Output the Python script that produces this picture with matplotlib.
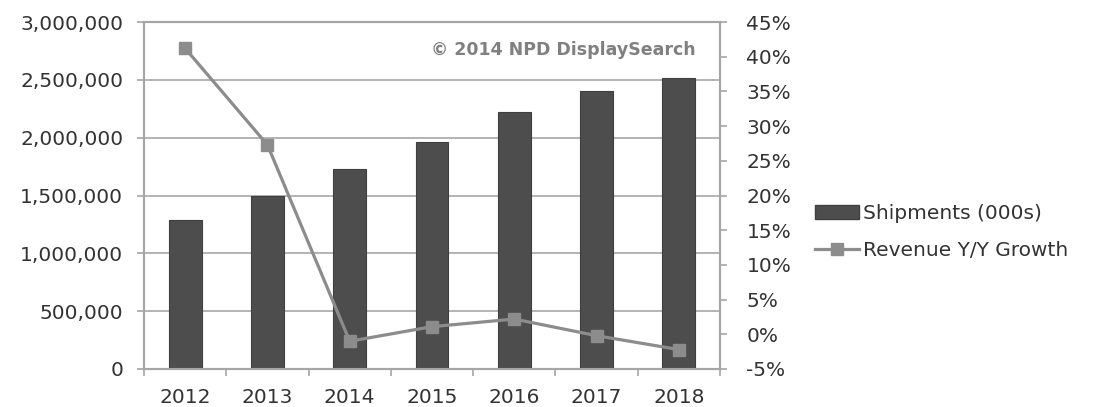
import matplotlib
matplotlib.use("Agg")
import matplotlib.pyplot as plt
from matplotlib.ticker import FuncFormatter, FixedLocator
from matplotlib.lines import Line2D
from matplotlib.patches import Patch

years = ["2012", "2013", "2014", "2015", "2016", "2017", "2018"]
shipments = [1288000, 1500000, 1730000, 1965000, 2225000, 2406000, 2513000]
growth = [41.2, 27.3, -1.0, 1.1, 2.2, -0.2, -2.2]
left_ticks = [0, 500000, 1000000, 1500000, 2000000, 2500000, 3000000]
right_ticks = [-5, 0, 5, 10, 15, 20, 25, 30, 35, 40, 45]

plt.rcParams['font.family'] = ['DejaVu Sans']
fig = plt.figure(figsize=(11.03, 4.07), dpi=100)
ax = fig.add_axes([144/1103, 1 - 369/407, (720-144)/1103, (369-22)/407])

BAR = "#4d4d4d"
LINE = "#8c8c8c"
GRID = "#b3b3b3"
SPINE = "#a6a6a6"
TXT = "#333333"
FS = 14.5

x = list(range(len(years)))
ax.bar(x, shipments, width=0.4, color=BAR, edgecolor="#3f3f3f", linewidth=0.8, zorder=3)
ax.set_xlim(-0.5, len(years) - 0.5)
ax.set_ylim(0, 3000000)
ax.set_yticks(left_ticks)
ax.yaxis.set_major_formatter(FuncFormatter(lambda v, p: f"{int(v):,}"))
ax.grid(axis="y", color=GRID, linewidth=1.4, zorder=0)
ax.set_axisbelow(True)

# x ticks: marks at boundaries, labels at centres
ax.xaxis.set_major_locator(FixedLocator([i - 0.5 for i in range(len(years) + 1)]))
ax.xaxis.set_major_formatter(FuncFormatter(lambda v, p: ""))
ax.xaxis.set_minor_locator(FixedLocator(x))
ax.set_xticklabels(years, minor=True)
ax.tick_params(axis="x", which="major", length=5, width=1.2, color=SPINE, direction="out")
ax.tick_params(axis="x", which="minor", length=0, pad=14, labelsize=FS, labelcolor=TXT)
ax.tick_params(axis="y", length=5, width=1.2, color=SPINE, labelsize=FS, labelcolor=TXT, pad=10)

for s in ax.spines.values():
    s.set_color(SPINE)
    s.set_linewidth(1.5)

ax2 = ax.twinx()
ax2.plot(x, growth, color=LINE, linewidth=2.3, marker="s", markersize=9,
         markerfacecolor=LINE, markeredgecolor=LINE, zorder=4)
ax2.set_ylim(-5, 45)
ax2.set_yticks(right_ticks)
ax2.yaxis.set_major_formatter(FuncFormatter(lambda v, p: f"{int(v)}%"))
ax2.tick_params(axis="y", length=5, width=1.2, color=SPINE, labelsize=FS, labelcolor=TXT, pad=14)
for s in ax2.spines.values():
    s.set_color(SPINE)
    s.set_linewidth(1.5)

ax.text(0.958, 0.92, "© 2014 NPD DisplaySearch", transform=ax.transAxes,
        ha="right", va="center", fontsize=12.5, fontweight="bold", color="#808080")

handles = [Patch(facecolor=BAR, edgecolor="#3f3f3f"),
           Line2D([0], [0], color=LINE, linewidth=2.3, marker="s", markersize=9,
                  markerfacecolor=LINE, markeredgecolor=LINE)]
fig.legend(handles, ["Shipments (000s)", "Revenue Y/Y Growth"],
           loc="center left", bbox_to_anchor=(797/1103, 1 - 232/407),
           frameon=False, fontsize=FS, handlelength=2.2, handletextpad=0.2,
           labelspacing=0.9, labelcolor=TXT)

fig.savefig("out.png", dpi=100)
